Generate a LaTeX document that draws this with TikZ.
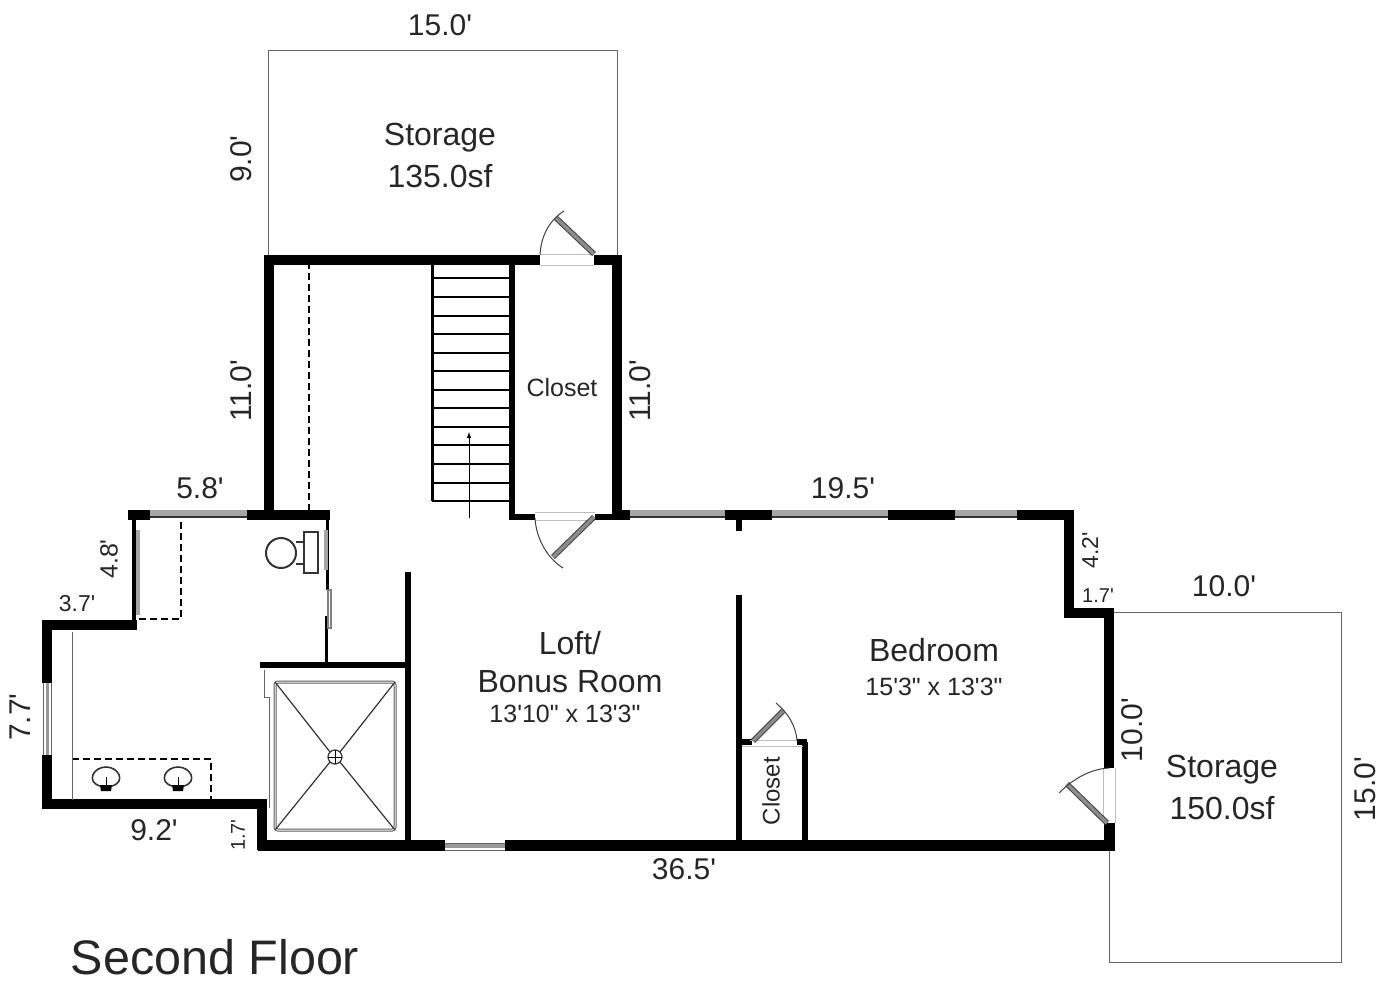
\documentclass[tikz,border=0pt]{standalone}
\usepackage{fontspec}
\setmainfont{Liberation Sans}[Ligatures=TeXOff]
\tikzset{
  wall/.style={line width=10pt,line cap=butt,line join=miter},
  midwall/.style={line width=6pt},
  thinwall/.style={line width=3pt},
  outline/.style={line width=1pt,draw=black!60},
  pane/.style={line width=7pt,draw=black!35},
  sill/.style={line width=1.5pt,draw=black!80},
  jamb/.style={line width=1pt,draw=black!25},
  leaf/.style={line width=1pt,draw=black!75,double=black!45,double distance=3.5pt},
  swing/.style={line width=1pt,draw=black!75},
  guide/.style={line width=2.6pt,dash pattern=on 7pt off 4pt},
  tread/.style={line width=1.6pt,draw=black},
  fixture/.style={line width=1.2pt,draw=black!80},
  dimbig/.style={text=black!85,font=\fontsize{30}{34}\selectfont},
  dimmid/.style={text=black!85,font=\fontsize{25}{28}\selectfont},
  dimsmall/.style={text=black!85,font=\fontsize{20}{24}\selectfont},
  roomname/.style={text=black!85,align=center,font=\fontsize{32}{42}\selectfont},
}
\begin{document}
\begin{tikzpicture}[x=1pt,y=-1pt]
\useasboundingbox (0,0) rectangle (1390,982);

% storage outlines
\draw[outline] (268,258) -- (268,51) -- (617,51) -- (617,258);
\draw[outline] (1113,612) -- (1341,612) -- (1341,962) -- (1109,962) -- (1109,848);

% outer walls
\draw[wall] (269,515) -- (269,260) -- (540,260);
\draw[wall] (594,260) -- (617,260) -- (617,520);
\draw[wall] (617,515) -- (1069,515) -- (1069,613) -- (1109,613) -- (1109,768);
\draw[wall,line width=11pt] (1109,823) -- (1109,845) -- (258,845);
\draw[line width=10pt] (262,850) -- (262,804) -- (42,804);
\draw[line width=10pt] (47,809) -- (47,625) -- (137,625);
\draw[wall] (330,515) -- (133,515);
\draw[thinwall,line width=4pt] (134,511) -- (134,625);
\draw[line width=11pt] (133,510) -- (133,520);

% windows
\foreach \ax/\bx in {150/247,630/725,772/888,955/1017}{
  \fill[white] (\ax,510) rectangle (\bx,520);
  \draw[pane] (\ax,513) -- (\bx,513);
  \draw[sill] (\ax,517) -- (\bx,517);
}
\fill[white] (42,683) rectangle (52,755);
\draw[line width=3pt,draw=black!40] (47,683) -- (47,755);
\draw[outline] (43,683) -- (43,755) (51,683) -- (51,755);
\fill[white] (445,840) rectangle (505,851);
\draw[line width=4pt,draw=black!40] (445,846) -- (505,846);
\draw[outline] (445,843) -- (505,843) (445,850) -- (505,850);
\draw[line width=4pt,draw=black!35] (138,530) -- (138,615);

% inner walls
\draw[midwall,line width=5.5pt] (408,572) -- (408,848);
\draw[line width=6pt] (260,665) -- (408,665);
\draw[thinwall] (327,515) -- (327,590);
\draw[thinwall] (326,616) -- (326,662);
\draw[line width=2pt,draw=black!50] (328,590) rectangle (331,628);
\draw[line width=4pt,draw=black!35] (326,530) -- (326,570);
\draw[midwall] (739,515) -- (739,531);
\draw[midwall] (739,595) -- (739,845);
\draw[midwall] (805,742) -- (805,845);
\draw[midwall] (739,742) -- (752,742);
\draw[midwall] (797,742) -- (807,742);

% closet by the stairs
\draw[midwall] (512,262) -- (512,517) -- (535,517);
\draw[midwall] (595,517) -- (620,517);

% stairs
\draw[tread,line width=3pt] (432,262) -- (432,501);
\foreach \ty in {278,297,316,334,353,371,390,408,427,445,464,483,501}{
  \draw[tread] (432,\ty) -- (512,\ty);
}
\draw[-latex,line width=1pt] (469,518) -- (469,432);

% doors
\draw[jamb] (540,254) -- (594,254) (540,265) -- (594,265);
\draw[leaf] (594,254) -- (556,218);
\draw[swing] (540,255) .. controls (541,235) and (550,220) .. (564,211);
\draw[jamb] (535,512) -- (595,512) (535,520) -- (595,520);
\draw[leaf] (594,517) -- (553,557);
\draw[swing] (535,518) .. controls (536,538) and (547,558) .. (563,568);
\draw[jamb] (750,740) -- (797,740) (742,746) -- (803,746);
\draw[leaf] (753,741) -- (783,711);
\draw[swing] (797,741) .. controls (796,725) and (787,712) .. (776,703);
\draw[jamb] (1103,768) -- (1103,823) (1115,768) -- (1115,823);
\draw[leaf] (1107,823) -- (1067,784);
\draw[swing] (1109,768) .. controls (1090,769) and (1073,779) .. (1059,793);

% dashed lines
\draw[guide] (309,262) -- (309,512);
\draw[guide] (181,522) -- (181,619) -- (137,619);
\draw[guide] (72,759) -- (211,759) -- (211,800);
\draw[outline] (72,632) -- (72,800);

% toilet
\draw[fixture,line width=2pt] (281,553) circle (15);
\draw[fixture] (296,542) -- (304,542) (296,564) -- (304,564);
\draw[fixture] (304,532) rectangle (318,573);

% sinks
\foreach \sx in {106,178}{
  \draw[fixture,line width=1.6pt] (\sx-6,786) .. controls (\sx-20,782) and (\sx-13,767) .. (\sx,767)
    .. controls (\sx+13,767) and (\sx+20,782) .. (\sx+6,786);
  \fill (\sx-6,785) -- (\sx+6,785) -- (\sx+5,791) -- (\sx-5,791) -- cycle;
  \draw[line width=1pt] (\sx,777) -- (\sx,786);
}

% shower
\draw[line width=3pt,draw=black!65,rounded corners=3pt] (275,682) rectangle (395,830);
\draw[line width=1pt,draw=white,rounded corners=3pt] (275,682) rectangle (395,830);
\draw[fixture] (275,682) -- (330,752) (395,682) -- (340,752);
\draw[fixture] (275,830) -- (330,762) (395,830) -- (340,762);
\draw[fixture] (335,757) circle (7);
\draw[line width=.8pt] (328,757) -- (342,757) (335,750) -- (335,764);
\draw[line width=1pt,draw=black!60] (264,670) -- (264,697) -- (270,697);
\draw[line width=1pt,draw=black!60] (269,697) -- (269,808);

% room labels
\node[roomname] (storagetop) at (440,155) {Storage\\135.0sf};
\node[roomname] (storageright) at (1222,787) {Storage\\150.0sf};
\node[dimmid] (closetup) at (562,388) {Closet};
\node[dimmid,font=\fontsize{24}{28}\selectfont,rotate=90] (closetlow) at (771,791) {Closet};
\node[roomname,font=\fontsize{32}{38}\selectfont] (loft) at (570,662) {Loft/\\Bonus Room};
\node[dimmid] (loftsize) at (565,714) {13'10" x 13'3"};
\node[roomname] (bedroom) at (934,650) {Bedroom};
\node[dimmid] (bedsize) at (934,687) {15'3" x 13'3"};
\node[font=\fontsize{48.5}{54}\selectfont,text=black!85] (floorname) at (215,957) {Second Floor};

% dimensions
\node[dimbig] (dimtop) at (440,25) {15.0'};
\node[dimbig,rotate=90] (dimstore) at (241,159) {9.0'};
\node[dimbig,rotate=90] (dimleft) at (241,391) {11.0'};
\node[dimbig,rotate=90] (dimcloset) at (640,391) {11.0'};
\node[dimbig] (dimbath) at (200,488) {5.8'};
\node[dimmid,rotate=90] (dimnotch) at (109,559) {4.8'};
\node[dimsmall,font=\fontsize{23}{26}\selectfont] (dimstep) at (77,604) {3.7'};
\node[dimbig,rotate=90] (dimwest) at (20,717) {7.7'};
\node[dimbig] (dimsouth) at (154,830) {9.2'};
\node[dimsmall,rotate=90] (dimjog) at (238,835) {1.7'};
\node[dimbig] (dimbottom) at (684,869) {36.5'};
\node[dimbig] (dimnorth) at (843,488) {19.5'};
\node[dimsmall,font=\fontsize{23}{26}\selectfont,rotate=90] (dimeast) at (1090,550) {4.2'};
\node[dimsmall] (dimrecess) at (1098,596) {1.7'};
\node[dimbig] (dimstorew) at (1224,586) {10.0'};
\node[dimbig,rotate=90] (dimbed) at (1132,730) {10.0'};
\node[dimbig,rotate=90] (dimstoreh) at (1365,789) {15.0'};
\end{tikzpicture}
\end{document}
